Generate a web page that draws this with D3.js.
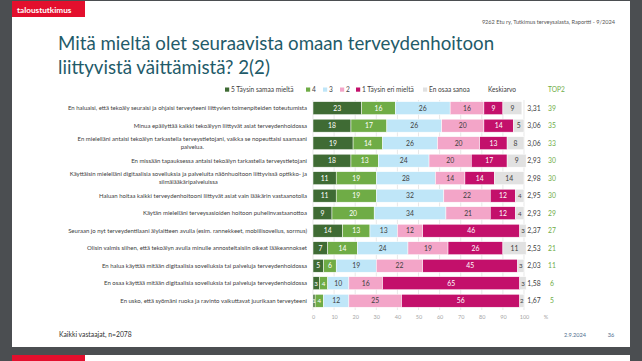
<!DOCTYPE html>
<html><head><meta charset="utf-8">
<script src="https://cdn.jsdelivr.net/npm/d3@7"></script>
<style>body{margin:0;background:#4b4e51;}svg{display:block;font-family:Lato,"Open Sans",sans-serif;}</style>
</head><body>
<svg id="c" width="642" height="361"></svg>
<script>
const categories = [
  ["En haluaisi, että tekoäly seuraisi ja ohjaisi terveyteeni liittyvien toimenpiteiden toteutumista"],
  ["Minua epäilyttää kaikki tekoälyyn liittyvät asiat terveydenhoidossa"],
  ["En mielelläni antaisi tekoälyn tarkastella terveystietojani, vaikka se nopeuttaisi saamaani", "palvelua."],
  ["En missään tapauksessa antaisi tekoälyn tarkastella terveystietojani"],
  ["Käyttäisin mielelläni digitaalisia sovelluksia ja palveluita näönhuoltoon liittyvissä optikko- ja", "silmälääkäripalveluissa"],
  ["Haluan hoitaa kaikki terveydenhoitooni liittyvät asiat vain lääkärin vastaanotolla"],
  ["Käytän mielelläni terveysasioiden hoitoon puhelinvastaanottoa"],
  ["Seuraan jo nyt terveydentilaani älylaitteen avulla (esim. rannekkeet, mobiilisovellus, sormus)"],
  ["Olisin valmis siihen, että tekoälyn avulla minulle annosteltaisiin oikeat lääkeannokset"],
  ["En halua käyttää mitään digitaalisia sovelluksia tai palveluja terveydenhoidossa"],
  ["En osaa käyttää mitään digitaalisia sovelluksia tai palveluja terveydenhoidossa"],
  ["En usko, että syömäni ruoka ja ravinto vaikuttavat juurikaan terveyteeni"]
];
const seriesNames = ["5 Täysin samaa mieltä", "4", "3", "2", "1 Täysin eri mieltä", "En osaa sanoa"];
const s5 = [23, 18, 19, 18, 11, 11, 9, 14, 7, 5, 3, 1];
const s4 = [16, 17, 14, 13, 19, 19, 20, 13, 14, 6, 4, 4];
const s3 = [26, 26, 26, 24, 28, 32, 34, 13, 24, 19, 10, 12];
const s2 = [16, 20, 20, 20, 14, 22, 21, 12, 19, 22, 16, 25];
const s1 = [9, 14, 13, 17, 14, 12, 12, 46, 26, 45, 65, 56];
const sEos = [9, 5, 8, 9, 14, 4, 4, 3, 11, 3, 3, 2];
const keskiarvo = ["3,31", "3,06", "3,06", "2,93", "2,98", "2,95", "2,93", "2,37", "2,53", "2,03", "1,58", "1,67"];
const top2 = [39, 35, 33, 30, 30, 30, 29, 27, 21, 11, 6, 5];
const xTicks = [0, 10, 20, 30, 40, 50, 60, 70, 80, 90, 100];
const colors = ["#3f6b34", "#6fac46", "#bfe6f8", "#f3a5c8", "#c3106b", "#e1e1e1"];
const textColors = ["#ffffff", "#ffffff", "#404040", "#404040", "#ffffff", "#404040"];

const series = [s5, s4, s3, s2, s1, sEos];
const svg = d3.select("#c");

// slide backgrounds
svg.append("rect").attr("x", 12).attr("y", 1).attr("width", 618).attr("height", 346).attr("fill", "#ffffff");
svg.append("rect").attr("x", 12).attr("y", 355).attr("width", 618).attr("height", 10).attr("fill", "#ffffff");
svg.append("rect").attr("x", 12).attr("y", 355).attr("width", 73).attr("height", 10).attr("fill", "#e30f2d");
svg.append("rect").attr("x", 12).attr("y", 1).attr("width", 73).attr("height", 16).attr("fill", "#e30f2d");
svg.append("text").attr("x", 17).attr("y", 12.5).attr("fill", "#fff").attr("font-size", 8.2).attr("font-weight", 700).text("taloustutkimus");

svg.append("text").attr("x", 615).attr("y", 24).attr("text-anchor", "end").attr("fill", "#555").attr("font-size", 5.6)
  .text("9262 Etu ry, Tutkimus terveysalasta, Raportti - 9/2024");

const title = svg.append("g").attr("fill", "#1f5b69").attr("font-size", 18.7);
title.append("text").attr("x", 58).attr("y", 50).text("Mitä mieltä olet seuraavista omaan terveydenhoitoon");
title.append("text").attr("x", 58).attr("y", 74).text("liittyvistä väittämistä? 2(2)");

// scales
const x = d3.scaleLinear().domain([0, 100]).range([313, 524]);
const y = d3.scaleBand().domain(d3.range(categories.length)).range([99.4, 309.5]).paddingInner(0.26).paddingOuter(0.13);

// grid
const grid = svg.append("g");
grid.selectAll("line").data(xTicks).join("line")
  .attr("x1", d => x(d)).attr("x2", d => x(d)).attr("y1", 100).attr("y2", 310)
  .attr("stroke", "#d9d9d9").attr("stroke-width", 0.6);

// axis
const axis = d3.axisBottom(x).tickValues(xTicks).tickSize(0).tickPadding(0);
const ax = svg.append("g").attr("transform", "translate(0,315)").call(axis);
ax.select(".domain").remove();
ax.selectAll("text").attr("fill", "#a6a6a6").attr("font-size", 5.5).attr("font-family", "Lato");
svg.append("text").attr("x", 546).attr("y", 319).attr("text-anchor", "middle").attr("fill", "#a6a6a6").attr("font-size", 5.5).text("%");

// bars
const stackData = categories.map((c, i) => {
  let acc = 0;
  return series.map((s, k) => { const seg = {i, k, v: s[i], x0: acc, x1: acc + s[i]}; acc += s[i]; return seg; });
});
const rows = svg.append("g").selectAll("g").data(stackData).join("g");
rows.selectAll("rect").data(d => d).join("rect")
  .attr("x", d => x(d.x0)).attr("width", d => x(d.x1) - x(d.x0))
  .attr("y", d => y(d.i)).attr("height", y.bandwidth())
  .attr("fill", d => colors[d.k]).attr("stroke", "#ffffff").attr("stroke-width", 0.5);
rows.selectAll("text").data(d => d).join("text")
  .attr("x", d => (x(d.x0) + x(d.x1)) / 2).attr("y", d => y(d.i) + y.bandwidth() / 2 + 2.4)
  .attr("text-anchor", "middle").attr("font-size", d => d.v < 5 ? 6.2 : 6.8)
  .attr("fill", d => textColors[d.k]).text(d => d.v);

// keskiarvo and top2
svg.append("g").selectAll("text").data(keskiarvo).join("text")
  .attr("x", 534).attr("y", (d, i) => y(i) + y.bandwidth() / 2 + 2.4).attr("text-anchor", "middle")
  .attr("font-size", 6.8).attr("fill", "#404040").text(d => d);
svg.append("g").selectAll("text").data(top2).join("text")
  .attr("x", 552).attr("y", (d, i) => y(i) + y.bandwidth() / 2 + 2.4).attr("text-anchor", "middle")
  .attr("font-size", 6.8).attr("fill", "#70ad47").text(d => d);

// category labels
const labels = svg.append("g").attr("font-size", 6.0).attr("fill", "#404040");
categories.forEach((lines, i) => {
  const cy = y(i) + y.bandwidth() / 2;
  if (lines.length === 1) {
    labels.append("text").attr("x", 307).attr("y", cy + 2.1).attr("text-anchor", "end").text(lines[0]);
  } else {
    const t1 = labels.append("text").attr("x", 307).attr("y", cy - 2.0).attr("text-anchor", "end").text(lines[0]);
    const w = t1.node().getComputedTextLength();
    labels.append("text").attr("x", 307 - w / 2).attr("y", cy + 6.0).attr("text-anchor", "middle").text(lines[1]);
  }
});

// legend
const legend = svg.append("g").attr("font-size", 6.6).attr("fill", "#404040");
const legX = [225, 306, 323, 340, 356, 423];
seriesNames.forEach((n, k) => {
  legend.append("rect").attr("x", legX[k]).attr("y", 87.5).attr("width", 4.2).attr("height", 4.2).attr("fill", colors[k]);
  legend.append("text").attr("x", legX[k] + 6).attr("y", 92).text(n);
});
legend.append("text").attr("x", 488).attr("y", 92).text("Keskiarvo");
legend.append("text").attr("x", 548).attr("y", 92).attr("fill", "#70ad47").text("TOP2");

// footer
svg.append("text").attr("x", 59).attr("y", 337).attr("font-size", 6.8).attr("fill", "#333").text("Kaikki vastaajat, n=2078");
svg.append("text").attr("x", 575).attr("y", 337).attr("text-anchor", "middle").attr("font-size", 5.6).attr("fill", "#4f6f8f").text("2.9.2024");
svg.append("text").attr("x", 611).attr("y", 337).attr("text-anchor", "middle").attr("font-size", 5.6).attr("fill", "#4f6f8f").text("36");
</script>
</body></html>
